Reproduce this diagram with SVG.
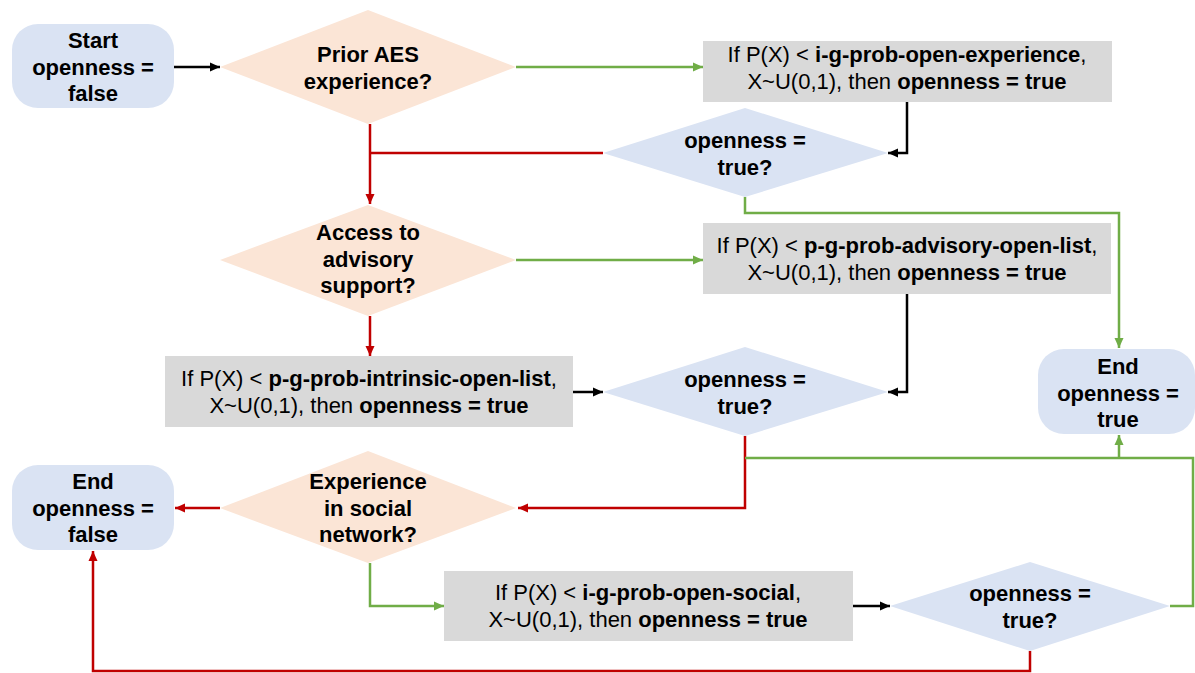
<svg xmlns="http://www.w3.org/2000/svg" width="1195" height="673" viewBox="0 0 1195 673">
<style>
text{font-family:"Liberation Sans",Arial,sans-serif;font-size:22px;fill:#000;text-anchor:middle}
.b{font-weight:bold}
.term{fill:#DAE3F3}
.dec{fill:#FBE5D6}
.q{fill:#DAE3F3}
.proc{fill:#D9D9D9}
.k{stroke:#000;stroke-width:2.5;fill:none}
.g{stroke:#70AD47;stroke-width:2.5;fill:none}
.r{stroke:#C00000;stroke-width:2.5;fill:none}
</style>
<defs>
<marker id="ak" markerUnits="userSpaceOnUse" markerWidth="10" markerHeight="10" refX="10" refY="5" orient="auto"><path d="M0,0.5 L10,5 L0,9.5 z" fill="#000"/></marker>
<marker id="ag" markerUnits="userSpaceOnUse" markerWidth="10" markerHeight="10" refX="10" refY="5" orient="auto"><path d="M0,0.5 L10,5 L0,9.5 z" fill="#70AD47"/></marker>
<marker id="ar" markerUnits="userSpaceOnUse" markerWidth="10" markerHeight="10" refX="10" refY="5" orient="auto"><path d="M0,0.5 L10,5 L0,9.5 z" fill="#C00000"/></marker>
</defs>
<rect width="1195" height="673" fill="#fff"/>

<g id="connectors">
<path class="k" d="M174,67 H220" marker-end="url(#ak)"/>
<path class="g" d="M516,67 H703" marker-end="url(#ag)"/>
<path class="k" d="M907,101 V153 H888" marker-end="url(#ak)"/>
<path class="r" d="M370,124 V204" marker-end="url(#ar)"/>
<path class="r" d="M603,153 H370"/>
<path class="g" d="M745,197 V213 H1119 V348" marker-end="url(#ag)"/>
<path class="g" d="M516,260 H703" marker-end="url(#ag)"/>
<path class="r" d="M370,316 V356" marker-end="url(#ar)"/>
<path class="k" d="M907,294 V392 H888" marker-end="url(#ak)"/>
<path class="k" d="M573,392 H603" marker-end="url(#ak)"/>
<path class="r" d="M745,436 V508 H518" marker-end="url(#ar)"/>
<path class="g" d="M745,458 H1193 V606 H1170"/>
<path class="g" d="M1119,458 V435" marker-end="url(#ag)"/>
<path class="r" d="M220,508 H175" marker-end="url(#ar)"/>
<path class="g" d="M370,563 V606 H444" marker-end="url(#ag)"/>
<path class="k" d="M853,606 H890" marker-end="url(#ak)"/>
<path class="r" d="M1030,651 V671 H93 V551" marker-end="url(#ar)"/>
</g>

<g id="start">
<rect class="term" x="12" y="24" width="162" height="84" rx="26"/>
<text class="b" x="93" y="48">Start</text>
<text class="b" x="93" y="75">openness =</text>
<text class="b" x="93" y="101">false</text>
</g>

<g id="prior-aes">
<polygon class="dec" points="220,67 368,10 516,67 368,124"/>
<text class="b" x="368" y="62">Prior AES</text>
<text class="b" x="368" y="89">experience?</text>
</g>

<g id="box-experience">
<rect class="proc" x="703" y="41" width="409" height="61"/>
<text x="907" y="62">If P(X) &lt; <tspan class="b">i-g-prob-open-experience</tspan>,</text>
<text x="907" y="89">X~U(0,1), then <tspan class="b">openness = true</tspan></text>
</g>

<g id="check1">
<polygon class="q" points="603,153 745,108 888,153 745,197"/>
<text class="b" x="745" y="148">openness =</text>
<text class="b" x="745" y="175">true?</text>
</g>

<g id="advisory">
<polygon class="dec" points="220,260 368,205 516,260 368,316"/>
<text class="b" x="368" y="240">Access to</text>
<text class="b" x="368" y="267">advisory</text>
<text class="b" x="368" y="293">support?</text>
</g>

<g id="box-advisory">
<rect class="proc" x="703" y="223" width="408" height="71"/>
<text x="907" y="253">If P(X) &lt; <tspan class="b">p-g-prob-advisory-open-list</tspan>,</text>
<text x="907" y="280">X~U(0,1), then <tspan class="b">openness = true</tspan></text>
</g>

<g id="box-intrinsic">
<rect class="proc" x="165" y="356" width="408" height="71"/>
<text x="369" y="386">If P(X) &lt; <tspan class="b">p-g-prob-intrinsic-open-list</tspan>,</text>
<text x="369" y="413">X~U(0,1), then <tspan class="b">openness = true</tspan></text>
</g>

<g id="check2">
<polygon class="q" points="603,392 745,347 888,392 745,436"/>
<text class="b" x="745" y="387">openness =</text>
<text class="b" x="745" y="414">true?</text>
</g>

<g id="end-true">
<rect class="term" x="1038" y="349" width="157" height="85" rx="26"/>
<text class="b" x="1118" y="374">End</text>
<text class="b" x="1118" y="401">openness =</text>
<text class="b" x="1118" y="427">true</text>
</g>

<g id="end-false">
<rect class="term" x="12" y="465" width="162" height="85" rx="26"/>
<text class="b" x="93" y="489">End</text>
<text class="b" x="93" y="516">openness =</text>
<text class="b" x="93" y="542">false</text>
</g>

<g id="social">
<polygon class="dec" points="220,508 368,451 516,508 368,563"/>
<text class="b" x="368" y="489">Experience</text>
<text class="b" x="368" y="516">in social</text>
<text class="b" x="368" y="542">network?</text>
</g>

<g id="box-social">
<rect class="proc" x="444" y="571" width="409" height="70"/>
<text x="648" y="600">If P(X) &lt; <tspan class="b">i-g-prob-open-social</tspan>,</text>
<text x="648" y="627">X~U(0,1), then <tspan class="b">openness = true</tspan></text>
</g>

<g id="check3">
<polygon class="q" points="890,606 1030,562 1170,606 1030,651"/>
<text class="b" x="1030" y="601">openness =</text>
<text class="b" x="1030" y="628">true?</text>
</g>
</svg>
